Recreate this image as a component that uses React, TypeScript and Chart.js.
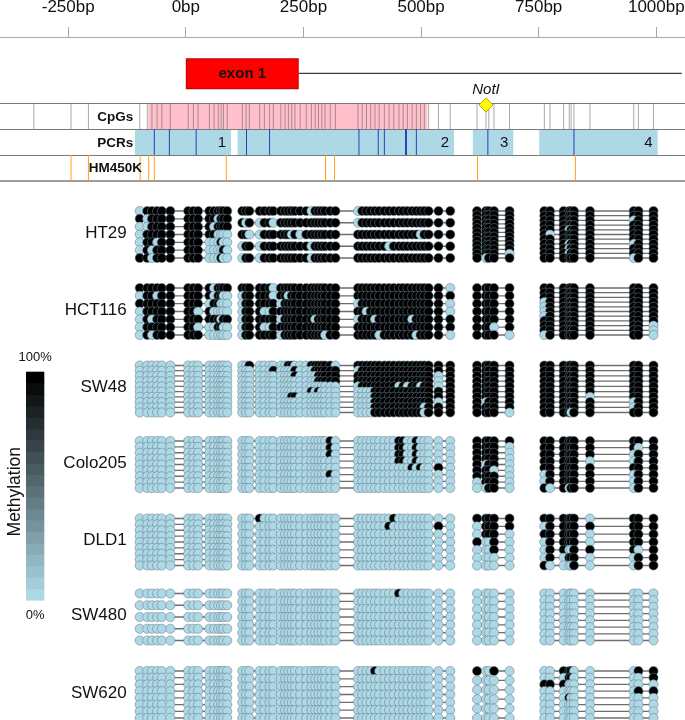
import React, { useEffect, useRef } from 'react';
import { Chart, registerables } from 'chart.js';

Chart.register(...registerables);

const FONT = "'Liberation Sans', Arial, Helvetica, sans-serif";

// ---- genomic axis (bp) ----
const AXIS_TICKS = [-250, 0, 250, 500, 750, 1000];
const X_MIN = -395;
const X_MAX = 1061;

// ---- annotation tracks (bp) ----
const EXON1 = [0, 240];
const TRANSCRIPT_END = 1054;
const CPG_ISLAND = [-80, 513];
const CPG_OTHER = [-323, -244, -207];
const PCR_RANGES = [[-108, 96], [110, 570], [610, 696], [751, 1003]];
const PCR_LABELS = ['1', '2', '3', '4'];
const PRIMER_MARKS = [-67, -35, 22, 129, 178, 368, 409, 422, 467, 469, 490, 642, 825];
const HM450K_PROBES = [-244, -207, -97, -79, -67, 86, 297, 316, 620, 828];
const NOTI_SITE = 638;
const TRACK_NAMES = ['CpGs', 'PCRs', 'HM450K'];

// ---- CpG positions per amplicon (bp) ----
const CPG_PCR1 = [-98, -82, -72, -61, -51, -33, 5, 16, 26, 50, 60, 69, 75, 80, 88];
const CPG_PCR2 = [120, 128, 135, 157, 167, 178, 186, 202, 211, 218, 225, 232, 243, 256, 267, 275, 282, 289, 296, 307, 318,
  366, 375, 384, 393, 402, 411, 422, 432, 442, 453, 462, 471, 481, 490, 499, 507, 516, 537, 562];
const CPG_PCR3 = [619, 638, 644, 655, 688];
const CPG_PCR4 = [762, 774, 803, 815, 819, 825, 859, 952, 962, 994];

const CELL_LINES = ['HT29', 'HCT116', 'SW48', 'Colo205', 'DLD1', 'SW480', 'SW620'];

// ---- methylation of clones: 1 = methylated, 0 = unmethylated ----
const Z15 = '000000000000000';
const Z40 = '000 0000 000000 0 0000000 00000000000000000 00';
const Z5 = '00000';
const Z10 = '0000000000';

const HT29_ROWS = [
  ['011111111111111', '101111111110111', '001111111101111', '011111111110000', '011011111000100', '010111111000010', '110111111000100'],
  [
    '111 1111 111111 1 0111111 01111111111111111 11',
    '101 0110 111111 1 1111111 01111111111111111 11',
    '110 0111 111010 1 1111111 11111111111111011 11',
    '011 0111 111111 1 0111111 11111110111111111 11',
    '011 0111 111111 1 0111111 11111111111111111 11',
  ],
  ['11111', '11111', '11111', '11111', '11111', '11111', '11111', '11111', '11111', '11111', '11110', '10111'],
  ['1111111111', '1111111111', '1111111011', '1111111111', '1110111111', '1011111111', '1111111111', '1110111011', '1110111111', '1110111111', '1111111011'],
];

const HCT116_ROWS = [
  ['111111111101111', '011011111101100', '111111111011000', '011111110100000', '010111111111011', '011111110001100', '010111111000000'],
  [
    '111 1110 111111 1 1111111 11111111111111111 10',
    '011 1110 110111 1 1111111 11111111111111111 11',
    '011 1111 011111 1 1111111 01111111111111111 10',
    '011 1001 111111 1 1111111 11011111111111111 10',
    '011 1111 011111 1 1011111 01110111111101111 11',
    '011 1001 111111 1 1111111 11111111111111111 11',
    '011 1111 011111 1 1111011 11111011111110111 10',
  ],
  ['11111', '11111', '11111', '11111', '11111', '11101', '11110'],
  ['1111111111', '1111111111', '1111111111', '0111111111', '0111111111', '0111111111', '0111111111', '1111111111', '1111111110', '1111111110', '0111111110'],
];

const SW48_ROWS = [
  [Z15, Z15, Z15, Z15, Z15, Z15, Z15, Z15, Z15, Z15],
  [
    '001 0000 001100 0 1111110 11111111111111111 11',
    '000 0001 000010 0 0111111 01111111111111111 11',
    '000 0000 000010 0 0011111 11111111111111111 01',
    '000 0000 000000 0 0011111 11111111111111111 01',
    '000 0000 000000 0 0000000 01111111101011011 01',
    '000 0000 000000 0 1010000 00001111111111111 11',
    '000 0000 000110 0 0000000 00001111111111111 11',
    '000 0000 000000 0 0000000 00001111111111111 01',
    '000 0000 000000 0 0000000 00001111111111101 11',
    '000 0000 000000 0 0000000 00001111111111101 11',
  ],
  ['11111', '11111', '11111', '11111', '11111', '11111', '11111', '10111', '11111', '11110'],
  ['1111111111', '1111111111', '1111111111', '1111111111', '1111111111', '1111111111', '1111110111', '1111111011', '1111111011', '1111011111'],
];

const COLO205_ROWS = [
  [Z15, Z15, Z15, Z15, Z15, Z15, Z15, Z15, Z15],
  [
    '000 0000 000000 0 0000010 00000000011001000 00',
    '000 0000 000000 0 0000010 00000000011001000 00',
    '000 0000 000000 0 0000010 00000000011001000 00',
    '000 0000 000000 0 0000000 00000000011001000 00',
    '000 0000 000000 0 0000000 00000000000010100 10',
    '000 0000 000000 0 0000010 00000000000000000 00',
    Z40,
    Z40,
  ],
  ['11111', '11110', '11110', '11110', '10110', '11100', '11110', '01110', '00110'],
  ['1111111111', '1111111101', '1111111011', '1111110011', '1111111111', '0111111011', '0111111011', '1010111011'],
];

const DLD1_ROWS = [
  [Z15, Z15, Z15, Z15, Z15, Z15, Z15, Z15, Z15],
  [
    '000 1000 000000 0 0000000 00000000100000000 00',
    '000 0000 000000 0 0000000 00000001000000000 10',
    Z40, Z40, Z40, Z40, Z40,
  ],
  ['11111', '01111', '01110', '10010', '00010', '00000', '00000'],
  ['1111110111', '0111111111', '1111110111', '0111110111', '0110011101', '0101110011', '1000010011'],
];

const SW480_ROWS = [
  [Z15, Z15, Z15, Z15, Z15],
  ['000 0000 000000 0 0000000 00000000010000000 00', Z40, Z40, Z40, Z40, Z40, Z40],
  [Z5, Z5, Z5, Z5, Z5, Z5, Z5],
  [Z10, Z10, Z10, Z10, Z10, Z10, Z10, Z10],
];

const SW620_ROWS = [
  [Z15, Z15, Z15, Z15, Z15, Z15, Z15, Z15],
  ['000 0000 000000 0 0000000 00001000000000000 00', Z40, Z40, Z40, Z40, Z40, Z40],
  ['10010', Z5, Z5, Z5, Z5, Z5],
  ['0011100011', '0001100001', '1110000000', '0000000011', '0001000000', Z10, Z10, Z10],
];

const ALL_ROWS = [HT29_ROWS, HCT116_ROWS, SW48_ROWS, COLO205_ROWS, DLD1_ROWS, SW480_ROWS, SW620_ROWS];
const AMPLICON_CPGS = [CPG_PCR1, CPG_PCR2, CPG_PCR3, CPG_PCR4];

// ---- layout (y axis is in page pixels) ----
const Y_EXON = 73.7;
const Y_CPG = 116;
const Y_PCR = 142;
const Y_HM = 168;
const TRACK_RULES = [103.5, 129.5, 155.5, 181];
const TRACK_LABEL_X = -150;
const BLOCK_TOPS = [211, 288, 365.5, 441, 518.5, 593.5, 671];
const BLOCK_H = 47;

const BLUE = '#add8e6';

function hline(x0: number, x1: number, y: number, color: string, width: number, order: number) {
  return {
    type: 'scatter',
    showLine: true,
    data: [{ x: x0, y }, { x: x1, y }],
    borderColor: color,
    borderWidth: width,
    borderCapStyle: 'butt',
    pointRadius: 0,
    pointHoverRadius: 0,
    order,
  };
}

function vmarks(xs: number[], y: number, color: string, order: number) {
  return {
    type: 'scatter',
    showLine: false,
    data: xs.map((x) => ({ x, y })),
    pointStyle: 'line',
    pointRotation: 90,
    pointRadius: 13,
    pointHoverRadius: 13,
    pointBorderColor: color,
    pointBorderWidth: 1,
    order,
  };
}

function buildDatasets() {
  const ds: any[] = [];
  ds.push(hline(CPG_ISLAND[0], CPG_ISLAND[1], Y_CPG, '#ffc0cb', 26, 20));
  PCR_RANGES.forEach((r) => ds.push(hline(r[0], r[1], Y_PCR, BLUE, 26, 20)));
  TRACK_RULES.forEach((y, i) => ds.push(hline(X_MIN, X_MAX, y, i === 3 ? '#9c9c9c' : '#7a7a7a', i === 3 ? 2 : 1.1, 15)));
  ds.push(hline(EXON1[1], TRANSCRIPT_END, Y_EXON - 0.3, '#3a3a3a', 1.3, 12));
  ds.push(hline(EXON1[0], EXON1[1], Y_EXON, '#c40000', 31, 11));
  ds.push(hline(EXON1[0] + 2, EXON1[1] - 2, Y_EXON, '#ff0000', 29, 10));
  const allCpg = [...CPG_OTHER, ...CPG_PCR1, ...CPG_PCR2, ...CPG_PCR3, ...CPG_PCR4];
  ds.push(vmarks(allCpg, Y_CPG, 'rgba(85,85,85,0.5)', 8));
  ds.push(vmarks(PRIMER_MARKS, Y_PCR, '#2b3fb8', 8));
  ds.push(vmarks(HM450K_PROBES, Y_HM, '#ffa31a', 8));
  ds.push({
    type: 'scatter',
    data: [{ x: NOTI_SITE, y: 105 }],
    pointStyle: 'rectRot',
    pointRadius: 7,
    pointHoverRadius: 7,
    pointBackgroundColor: '#ffff00',
    pointBorderColor: '#b9a800',
    pointBorderWidth: 1,
    order: 1,
  });
  const lolli: any[] = [];
  ALL_ROWS.forEach((cellRows, ci) => {
    cellRows.forEach((rows, gi) => {
      const cpgs = AMPLICON_CPGS[gi];
      const n = rows.length;
      rows.forEach((raw, ri) => {
        const s = raw.replace(/\s/g, '');
        const y = BLOCK_TOPS[ci] + (n > 1 ? (ri * BLOCK_H) / (n - 1) : BLOCK_H / 2);
        lolli.push({
          type: 'scatter',
          showLine: true,
          data: cpgs.map((x) => ({ x, y })),
          borderColor: '#6e6e6e',
          borderWidth: 1.3,
          pointRadius: 4.6,
          pointHoverRadius: 4.6,
          pointBackgroundColor: cpgs.map((_, k) => (s[k] === '1' ? '#000000' : BLUE)),
          pointBorderColor: 'rgba(105,125,135,0.9)',
          pointBorderWidth: 0.6,
          order: 5,
        });
      });
    });
  });
  lolli.reverse();
  return [...ds, ...lolli];
}

const labelsPlugin = {
  id: 'labelsPlugin',
  afterDatasetsDraw(chart: any) {
    const { ctx } = chart;
    const x = chart.scales.x;
    const y = chart.scales.y;
    ctx.save();
    ctx.fillStyle = '#111';
    ctx.textBaseline = 'middle';

    ctx.font = `bold 15px ${FONT}`;
    ctx.textAlign = 'center';
    ctx.fillText('exon 1', x.getPixelForValue((EXON1[0] + EXON1[1]) / 2), y.getPixelForValue(Y_EXON) + 0.5);

    ctx.font = `bold 13.5px ${FONT}`;
    [Y_CPG + 1, Y_PCR + 1, Y_HM].forEach((ty, i) => {
      ctx.fillText(TRACK_NAMES[i], x.getPixelForValue(TRACK_LABEL_X), y.getPixelForValue(ty));
    });

    ctx.font = `15px ${FONT}`;
    ctx.textAlign = 'right';
    PCR_RANGES.forEach((r, i) => {
      ctx.fillText(PCR_LABELS[i], x.getPixelForValue(r[1]) - 5, y.getPixelForValue(Y_PCR) + 1);
    });

    ctx.font = `italic 15px ${FONT}`;
    ctx.textAlign = 'center';
    ctx.fillText('NotI', x.getPixelForValue(NOTI_SITE), 89.5);

    ctx.font = `17px ${FONT}`;
    ctx.textAlign = 'right';
    CELL_LINES.forEach((name, i) => {
      ctx.fillText(name, 126.7, BLOCK_TOPS[i] + BLOCK_H / 2 - 1.5);
    });

    const cbX = 26;
    const cbW = 18.3;
    const cbTop = 371.7;
    const cbBot = 600;
    const nb = 20;
    const h = (cbBot - cbTop) / nb;
    for (let i = 0; i < nb; i++) {
      const t = i / (nb - 1);
      const r = Math.round(173 * (1 - t));
      const g = Math.round(216 * (1 - t));
      const b = Math.round(230 * (1 - t));
      ctx.fillStyle = `rgb(${r},${g},${b})`;
      ctx.fillRect(cbX, cbBot - (i + 1) * h, cbW, h + 0.6);
    }
    ctx.fillStyle = '#111';
    ctx.font = `13px ${FONT}`;
    ctx.textAlign = 'center';
    ctx.fillText('100%', cbX + cbW / 2, 357.3);
    ctx.fillText('0%', cbX + cbW / 2, 615);
    ctx.save();
    ctx.translate(15, 491.7);
    ctx.rotate(-Math.PI / 2);
    ctx.font = `17.5px ${FONT}`;
    ctx.fillText('Methylation', 0, 0);
    ctx.restore();

    ctx.restore();
  },
};

export default function App() {
  const ref = useRef<HTMLCanvasElement>(null);
  useEffect(() => {
    const chart = new Chart(ref.current as HTMLCanvasElement, {
      type: 'scatter',
      data: { datasets: buildDatasets() as any },
      options: {
        animation: false,
        responsive: false,
        devicePixelRatio: 1,
        events: [],
        layout: { padding: 0, autoPadding: false },
        plugins: { legend: { display: false }, tooltip: { enabled: false } },
        elements: { line: { tension: 0 } },
        scales: {
          x: {
            type: 'linear',
            position: 'top',
            min: X_MIN,
            max: X_MAX,
            afterBuildTicks: (s: any) => {
              s.ticks = AXIS_TICKS.map((v) => ({ value: v }));
            },
            afterFit: (s: any) => {
              s.height = 37;
              s.paddingLeft = 0;
              s.paddingRight = 0;
            },
            ticks: {
              autoSkip: false,
              maxRotation: 0,
              minRotation: 0,
              padding: 9,
              color: '#111',
              font: { family: FONT, size: 17 },
              callback: (v: any) => `${v}bp`,
            },
            grid: { drawOnChartArea: false, drawTicks: true, tickLength: 10, color: '#a8a8a8', lineWidth: 1 },
            border: { display: true, color: '#a8a8a8', width: 1 },
          },
          y: { type: 'linear', display: false, min: 37, max: 720, reverse: true },
        },
      } as any,
      plugins: [labelsPlugin],
    });
    return () => chart.destroy();
  }, []);
  return (
    <div style={{ position: 'absolute', left: 0, top: 0, width: 685, height: 720, background: '#fff' }}>
      <canvas ref={ref} width={685} height={720} style={{ display: 'block' }} />
    </div>
  );
}
